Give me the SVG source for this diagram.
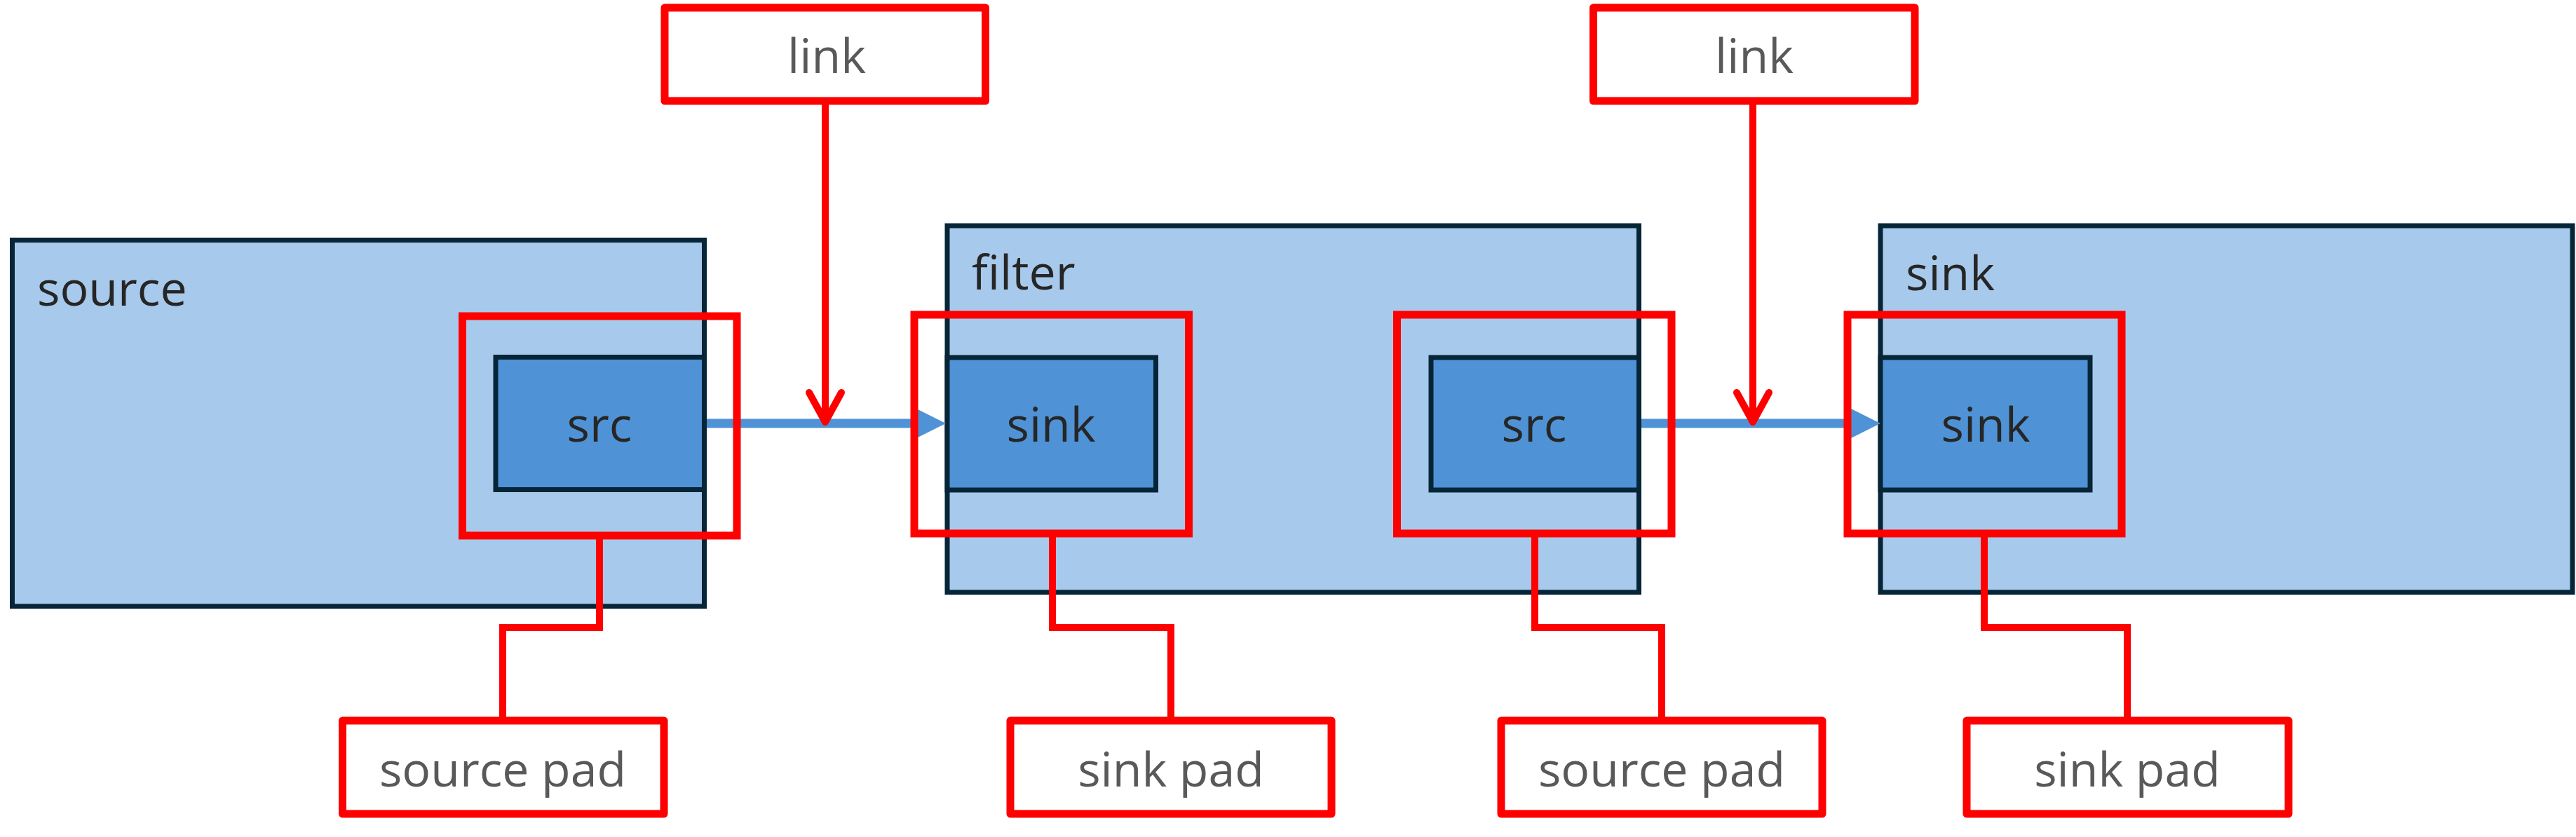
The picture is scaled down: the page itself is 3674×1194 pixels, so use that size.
<svg xmlns="http://www.w3.org/2000/svg" width="3674" height="1194" viewBox="0 0 3674 1194">
<defs>
<style>
.elem{fill:#A7C9EB;stroke:#062537;stroke-width:7}
.pad{fill:#4F93D6;stroke:#062537;stroke-width:7}
.hl{fill:none;stroke:#FF0000;stroke-width:11}
.lbl{fill:#FFFFFF;stroke:#FF0000;stroke-width:11;stroke-linejoin:round}
.red{fill:none;stroke:#FF0000;stroke-width:10}
.flow{fill:none;stroke:#4F93D6;stroke-width:13}
.t{font-family:"Open Sans","Noto Sans","DejaVu Sans",sans-serif;font-size:68px;fill:#262626}
.tl{font-family:"Open Sans","Noto Sans","DejaVu Sans",sans-serif;font-size:68px;fill:#595959;text-anchor:middle}
.tc{text-anchor:middle}
</style>
<marker id="tri" markerUnits="userSpaceOnUse" viewBox="-5 -30 60 60" markerWidth="60" markerHeight="60" refX="0" refY="0" orient="auto">
<path d="M0,-22 L44,0 L0,22 Z" fill="#4F93D6"/>
</marker>
<marker id="vee" markerUnits="userSpaceOnUse" viewBox="-55 -35 70 70" markerWidth="70" markerHeight="70" refX="0" refY="0" orient="auto">
<path d="M-42,-23 L0,0 L-42,23" fill="none" stroke="#FF0000" stroke-width="10" stroke-linecap="round" stroke-linejoin="round"/>
</marker>
</defs>
<rect width="3674" height="1194" fill="#FFFFFF"/>

<g id="source">
<rect class="elem" x="17.5" y="342.5" width="987" height="522.5"/>
<text class="t" x="53" y="436">source</text>
</g>
<g id="filter">
<rect class="elem" x="1351" y="322" width="986.5" height="523"/>
<text class="t" x="1386" y="413">filter</text>
</g>
<g id="sink">
<rect class="elem" x="2682" y="322" width="987" height="523"/>
<text class="t" x="2718" y="414">sink</text>
</g>

<g id="source-src">
<rect class="pad" x="707" y="509.5" width="297.5" height="189"/>
<text class="t tc" x="855" y="630">src</text>
</g>
<g id="filter-sink">
<rect class="pad" x="1351" y="510" width="297.5" height="189"/>
<text class="t tc" x="1499" y="630">sink</text>
</g>
<g id="filter-src">
<rect class="pad" x="2041" y="510" width="296.5" height="189"/>
<text class="t tc" x="2188" y="630">src</text>
</g>
<g id="sink-sink">
<rect class="pad" x="2682" y="510" width="299" height="189"/>
<text class="t tc" x="2832" y="630">sink</text>
</g>

<g id="connectors">
<path class="flow" d="M1008,604 H1305" marker-end="url(#tri)"/>
<path class="flow" d="M2341,604 H2638" marker-end="url(#tri)"/>
<path class="red" d="M855,763 V895 H717 V1028"/>
<path class="red" d="M1501,763 V895 H1670 V1028"/>
<path class="red" d="M2189,763 V895 H2370 V1028"/>
<path class="red" d="M2830,763 V895 H3034 V1028"/>
<path class="red" d="M1177,144 V602" marker-end="url(#vee)"/>
<path class="red" d="M2500,144 V602" marker-end="url(#vee)"/>
</g>

<g id="hl-source-src"><rect class="hl" x="659.5" y="451" width="391.5" height="313"/></g>
<g id="hl-filter-sink"><rect class="hl" x="1304" y="449" width="391.5" height="312"/></g>
<g id="hl-filter-src"><rect class="hl" x="1992.5" y="449" width="391.5" height="312"/></g>
<g id="hl-sink-sink"><rect class="hl" x="2635" y="449" width="391" height="312"/></g>

<g id="link1">
<rect class="lbl" x="948" y="11" width="457.5" height="133"/>
<text class="tl" x="1179" y="104">link</text>
</g>
<g id="link2">
<rect class="lbl" x="2272.5" y="11" width="458.5" height="133"/>
<text class="tl" x="2502" y="104">link</text>
</g>
<g id="label-source-pad">
<rect class="lbl" x="488.5" y="1028" width="458.5" height="133"/>
<text class="tl" x="717" y="1122">source pad</text>
</g>
<g id="label-sink-pad-1">
<rect class="lbl" x="1441" y="1028" width="458" height="133"/>
<text class="tl" x="1670" y="1122">sink pad</text>
</g>
<g id="label-source-pad-2">
<rect class="lbl" x="2141" y="1028" width="458" height="133"/>
<text class="tl" x="2370" y="1122">source pad</text>
</g>
<g id="label-sink-pad-2">
<rect class="lbl" x="2805" y="1028" width="459" height="133"/>
<text class="tl" x="3034" y="1122">sink pad</text>
</g>
</svg>
